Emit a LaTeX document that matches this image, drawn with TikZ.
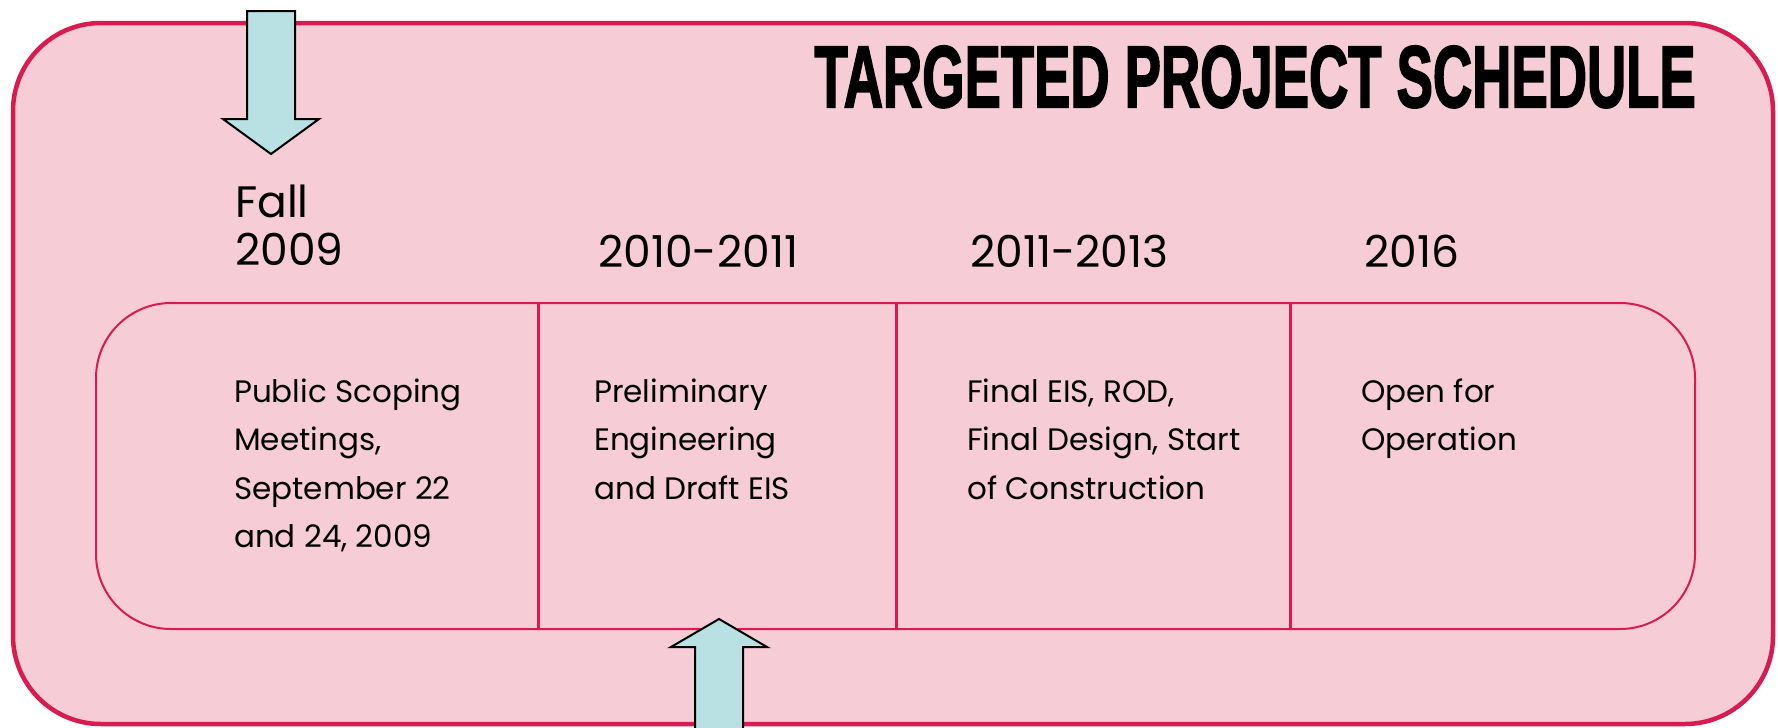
\documentclass[tikz,border=0pt]{standalone}
\usepackage{fontspec}
\usepackage{graphicx}
\setmainfont{Poppins}
\newfontfamily\titlefont{Liberation Sans}[BoldFeatures={FakeBold=2.5}]
\definecolor{pinkfill}{HTML}{F6CCD6}
\definecolor{crimson}{HTML}{D81B50}
\definecolor{teal}{HTML}{B9E1E3}
\tikzset{
  outerbox/.style={draw=crimson, line width=4.5pt, fill=pinkfill, rounded corners=88pt},
  innerbox/.style={draw=crimson, line width=2pt, rounded corners=75pt},
  divider/.style={draw=crimson, line width=3pt},
  bigarrow/.style={draw=black, line width=2pt, fill=teal, line join=miter},
  yeartext/.style={inner sep=0pt, anchor=base west, align=left, font=\fontsize{44}{48}\selectfont},
  bodytext/.style={inner sep=0pt, anchor=base west, align=left, font=\fontsize{31}{48.5}\selectfont},
}
\begin{document}
\begin{tikzpicture}[x=1pt,y=-1pt]
\useasboundingbox (0,0) rectangle (1778,728);
\clip (0,0) rectangle (1778,728);
\fill[white] (0,0) rectangle (1778,728);
% outer panel
\path[outerbox] (13,23) rectangle (1773,724);
% inner timeline box
\path[innerbox] (96,303) rectangle (1695,629);
\coordinate (d1t) at (538,303); \coordinate (d1b) at (538,629);
\coordinate (d2t) at (896,303); \coordinate (d2b) at (896,629);
\coordinate (d3t) at (1290,303); \coordinate (d3b) at (1290,629);
\draw[divider] (d1t) -- (d1b);
\draw[divider] (d2t) -- (d2b);
\draw[divider] (d3t) -- (d3b);
% title
\node[inner sep=0pt, anchor=base east] (title) at (1696,107)
  {\resizebox{881pt}{61pt}{\titlefont\bfseries TARGETED PROJECT SCHEDULE}};
% years (anchor = baseline of last line)
\node[yeartext] (y1) at (235,265) {Fall\\2009};
\node[yeartext] (y2) at (598,267) {2010-2011};
\node[yeartext] (y3) at (970,267) {2011-2013};
\node[yeartext] (y4) at (1364,267) {2016};
% descriptions (anchor = baseline of last line)
\node[bodytext] (t1) at (234,547.5) {Public Scoping\\Meetings,\\September 22\\and 24, 2009};
\node[bodytext] (t2) at (594,499) {Preliminary\\Engineering\\and Draft EIS};
\node[bodytext] (t3) at (967,499) {Final EIS, ROD,\\Final Design, Start\\of Construction};
\node[bodytext] (t4) at (1361,450.5) {Open for\\Operation};
% arrows
\path[bigarrow] (247,11) -- (295,11) -- (295,119) -- (319,119) -- (271,154) -- (223,119) -- (247,119) -- cycle;
\path[bigarrow] (695,740) -- (695,647) -- (671,647) -- (719,619) -- (767,647) -- (743,647) -- (743,740) -- cycle;
\end{tikzpicture}
\end{document}
